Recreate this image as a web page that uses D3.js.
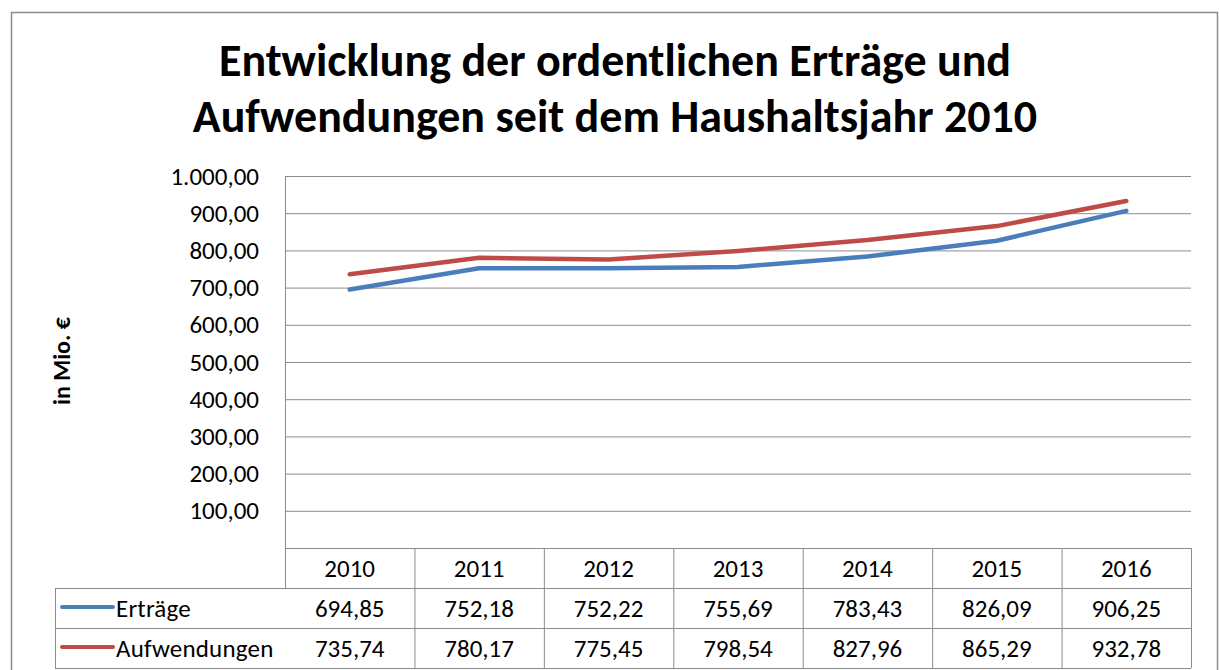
<!DOCTYPE html>
<html>
<head>
<meta charset="utf-8">
<script src="https://cdn.jsdelivr.net/npm/d3@7"></script>
<style>
  body { margin: 0; background: #fff; }
  svg { display: block; font-family: Carlito, Calibri, Lato, sans-serif; }
</style>
</head>
<body>
<script>
var years = ["2010", "2011", "2012", "2013", "2014", "2015", "2016"];
var ertraege = [694.85, 752.18, 752.22, 755.69, 783.43, 826.09, 906.25];
var aufwendungen = [735.74, 780.17, 775.45, 798.54, 827.96, 865.29, 932.78];
var seriesNames = ["Erträge", "Aufwendungen"];
var seriesColors = ["#4a7ebb", "#be4b48"];
var yTicks = [100, 200, 300, 400, 500, 600, 700, 800, 900, 1000];
var titleLines = ["Entwicklung der ordentlichen Erträge und", "Aufwendungen seit dem Haushaltsjahr 2010"];

var w = 1219, h = 670;
var plotLeft = 285, plotRight = 1191, plotTop = 176, plotBottom = 548;
var rowH = 40;
var grey = "#8c8c8c";

var de = d3.formatLocale({decimal: ",", thousands: ".", grouping: [3], currency: ["", " €"]});
var fmt = de.format(",.2f");

var svg = d3.select("body").append("svg")
  .attr("width", w)
  .attr("height", h);

// outer chart border
svg.append("rect")
  .attr("x", 11.5).attr("y", 12.5)
  .attr("width", 1206).attr("height", 700)
  .attr("fill", "#fff")
  .attr("stroke", grey).attr("stroke-width", 1.5);

// title
svg.append("g").selectAll("text")
  .data(titleLines)
  .enter().append("text")
  .attr("x", 615)
  .attr("y", function(d, i) { return 76 + i * 56; })
  .attr("text-anchor", "middle")
  .style("font-size", "46px")
  .style("font-weight", "bold")
  .text(function(d) { return d; });

var xScale = d3.scaleBand().domain(years).range([plotLeft, plotRight]).padding(0);
var bw = xScale.bandwidth();
var yScale = d3.scaleLinear().domain([0, 1000]).range([plotBottom, plotTop]);

// y axis with gridlines
var yAxis = d3.axisLeft(yScale)
  .tickValues(yTicks)
  .tickSizeInner(-(plotRight - plotLeft))
  .tickSizeOuter(0)
  .tickPadding(26)
  .tickFormat(fmt);

var ga = svg.append("g")
  .attr("class", "axis")
  .attr("transform", "translate(" + plotLeft + ",0)")
  .call(yAxis);
ga.select(".domain").remove();
ga.selectAll(".tick line").attr("stroke", grey).attr("stroke-width", 1);
ga.selectAll(".tick text")
  .attr("fill", "#000")
  .style("font-size", "25px")
  .style("font-family", "Carlito, Calibri, Lato, sans-serif");

// left axis line
svg.append("line")
  .attr("x1", plotLeft + 0.5).attr("x2", plotLeft + 0.5)
  .attr("y1", plotTop).attr("y2", plotBottom + rowH)
  .attr("stroke", grey).attr("stroke-width", 1);

// axis title
svg.append("text")
  .attr("transform", "translate(70,361) rotate(-90)")
  .attr("text-anchor", "middle")
  .style("font-size", "24px")
  .style("font-weight", "bold")
  .text("in Mio. €");

// lines
var series = [ertraege, aufwendungen];
var line = d3.line()
  .x(function(d, i) { return xScale(years[i]) + bw / 2; })
  .y(function(d) { return yScale(d); });

svg.append("g").selectAll("path")
  .data(series)
  .enter().append("path")
  .attr("d", line)
  .attr("fill", "none")
  .attr("stroke", function(d, i) { return seriesColors[i]; })
  .attr("stroke-width", 4.5)
  .attr("stroke-linecap", "round")
  .attr("stroke-linejoin", "round");

// data table
var table = svg.append("g");
var legendLeft = 55;

// horizontal lines
table.append("line")
  .attr("x1", plotLeft).attr("x2", plotRight)
  .attr("y1", plotBottom + 0.5).attr("y2", plotBottom + 0.5)
  .attr("stroke", grey);
[1, 2, 3].forEach(function(r) {
  table.append("line")
    .attr("x1", legendLeft).attr("x2", plotRight)
    .attr("y1", plotBottom + r * rowH + 0.5).attr("y2", plotBottom + r * rowH + 0.5)
    .attr("stroke", grey);
});
// vertical lines
table.append("line")
  .attr("x1", legendLeft + 0.5).attr("x2", legendLeft + 0.5)
  .attr("y1", plotBottom + rowH).attr("y2", plotBottom + 3 * rowH)
  .attr("stroke", grey);
table.selectAll(".vline")
  .data(years)
  .enter().append("line")
  .attr("class", "vline")
  .attr("x1", function(d) { return xScale(d) + bw + 0.5; })
  .attr("x2", function(d) { return xScale(d) + bw + 0.5; })
  .attr("y1", plotBottom).attr("y2", plotBottom + 3 * rowH)
  .attr("stroke", grey);

// header years
table.selectAll(".year")
  .data(years)
  .enter().append("text")
  .attr("class", "year")
  .attr("x", function(d) { return xScale(d) + bw / 2; })
  .attr("y", plotBottom + rowH / 2 + 9)
  .attr("text-anchor", "middle")
  .style("font-size", "25px")
  .text(function(d) { return d; });

// values rows
series.forEach(function(s, r) {
  var ry = plotBottom + (r + 1) * rowH;
  table.selectAll(".val" + r)
    .data(s)
    .enter().append("text")
    .attr("class", "val" + r)
    .attr("x", function(d, i) { return xScale(years[i]) + bw / 2; })
    .attr("y", ry + rowH / 2 + 9)
    .attr("text-anchor", "middle")
    .style("font-size", "25px")
    .text(function(d) { return fmt(d); });

  // legend key
  table.append("line")
    .attr("x1", 62).attr("x2", 113)
    .attr("y1", ry + rowH / 2 - 1).attr("y2", ry + rowH / 2 - 1)
    .attr("stroke", seriesColors[r])
    .attr("stroke-width", 4)
    .attr("stroke-linecap", "round");
  table.append("text")
    .attr("x", 116)
    .attr("y", ry + rowH / 2 + 9)
    .style("font-size", "25px")
    .style("letter-spacing", "0.2px")
    .text(seriesNames[r]);
});
</script>
</body>
</html>
